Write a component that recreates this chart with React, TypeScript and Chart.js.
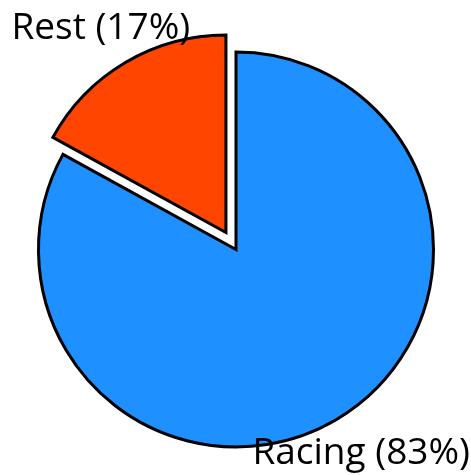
import React, { useEffect, useRef } from "react";
import { Chart, registerables } from "chart.js";

Chart.register(...registerables);

const categories = ["Racing", "Rest"];
const shares = [83, 17];
const sliceColors = ["#1E90FF", "#FF4500"];
const explodeFractions = [0, 0.1];

const explodePlugin = {
  id: "explodeSlices",
  afterDatasetsUpdate(chart: any) {
    const meta = chart.getDatasetMeta(0);
    meta.data.forEach((arc: any, i: number) => {
      const e = explodeFractions[i] || 0;
      if (!e) return;
      const mid = (arc.startAngle + arc.endAngle) / 2;
      const d = e * arc.outerRadius;
      arc.x += Math.cos(mid) * d;
      arc.y += Math.sin(mid) * d;
    });
  },
};

const labelPlugin = {
  id: "outerLabels",
  afterDatasetsDraw(chart: any) {
    const ctx = chart.ctx;
    const meta = chart.getDatasetMeta(0);
    ctx.save();
    ctx.font = '37px "Open Sans", sans-serif';
    ctx.fillStyle = "#000";
    ctx.textAlign = "center";
    ctx.textBaseline = "middle";
    meta.data.forEach((arc: any, i: number) => {
      const mid = (arc.startAngle + arc.endAngle) / 2;
      const x = arc.x + Math.cos(mid) * arc.outerRadius * 1.245;
      const y = arc.y + Math.sin(mid) * arc.outerRadius * 1.2;
      ctx.fillText(`${categories[i]} (${shares[i]}%)`, x, y);
    });
    ctx.restore();
  },
};

export default function App() {
  const ref = useRef<HTMLCanvasElement | null>(null);
  useEffect(() => {
    if (!ref.current) return;
    const chart = new Chart(ref.current, {
      type: "pie",
      data: {
        labels: categories,
        datasets: [
          {
            data: shares,
            backgroundColor: sliceColors,
            borderColor: "#000",
            borderWidth: 3,
            borderJoinStyle: "miter",
            radius: 197.5,
          } as any,
        ],
      },
      options: {
        animation: false,
        responsive: true,
        maintainAspectRatio: false,
        layout: { padding: { left: 1, right: 0, top: 24, bottom: 0 } },
        plugins: {
          legend: { display: false },
          tooltip: { enabled: false },
        },
        events: [],
      },
      plugins: [explodePlugin, labelPlugin],
    });
    return () => chart.destroy();
  }, []);
  return (
    <div style={{ position: "fixed", left: 0, top: 0, width: 471, height: 475 }}>
      <canvas ref={ref} />
    </div>
  );
}
